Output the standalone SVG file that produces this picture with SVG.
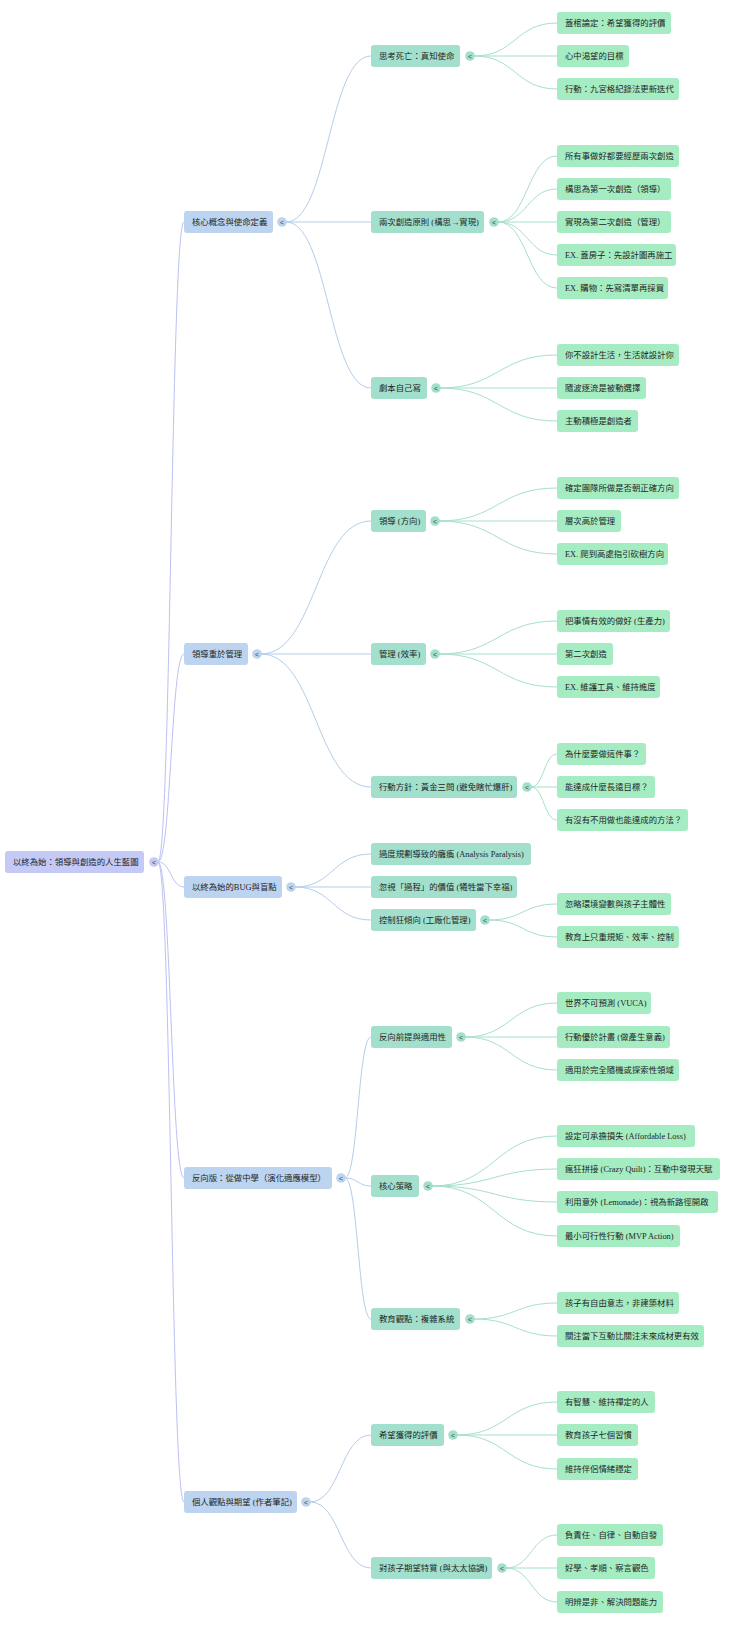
<svg xmlns="http://www.w3.org/2000/svg" width="740" height="1625" viewBox="0 0 740 1625">
<style>
text{font-family:"Liberation Serif","Noto Sans CJK TC",serif;font-size:8.4px;fill:#1f1f1f;dominant-baseline:central}
.r0{fill:#c4c9f6}.r1{fill:#bcd4ef}.r2{fill:#a2dfcd}.r3{fill:#a5ecc3}
.e0,.e1,.e2{fill:none;stroke-width:1}
.e0{stroke:#bcc1f3}.e1{stroke:#b2ceeb}.e2{stroke:#a6e0cc}
.c0{fill:#c4c9f6}.c1{fill:#bcd4ef}.c2{fill:#a2dfcd}
.ct{font-family:"Liberation Sans",sans-serif;font-size:7px;fill:#444;text-anchor:middle}
</style>
<rect width="740" height="1625" fill="#ffffff"/>
<g id="connectors">
<path class="e0" d="M158,862 C171,862 171,222 184,222"/>
<path class="e0" d="M158,862 C171,862 171,654 184,654"/>
<path class="e0" d="M158,862 C171,862 171,887 184,887"/>
<path class="e0" d="M158,862 C171,862 171,1178 184,1178"/>
<path class="e0" d="M158,862 C171,862 171,1502 184,1502"/>
<path class="e1" d="M286,222 C328.5,222 328.5,56 371,56"/>
<path class="e1" d="M286,222 L371,222"/>
<path class="e1" d="M286,222 C328.5,222 328.5,388 371,388"/>
<path class="e1" d="M261,654 C316,654 316,521 371,521"/>
<path class="e1" d="M261,654 L371,654"/>
<path class="e1" d="M261,654 C316,654 316,787 371,787"/>
<path class="e1" d="M295,887 C333,887 333,854 371,854"/>
<path class="e1" d="M295,887 L371,887"/>
<path class="e1" d="M295,887 C333,887 333,920 371,920"/>
<path class="e1" d="M345,1178 C358,1178 358,1037 371,1037"/>
<path class="e1" d="M345,1178 C358,1178 358,1186 371,1186"/>
<path class="e1" d="M345,1178 C358,1178 358,1319 371,1319"/>
<path class="e1" d="M310,1502 C340.5,1502 340.5,1435 371,1435"/>
<path class="e1" d="M310,1502 C340.5,1502 340.5,1568 371,1568"/>
<path class="e2" d="M474,56 C515.5,56 515.5,23 557,23"/>
<path class="e2" d="M474,56 L557,56"/>
<path class="e2" d="M474,56 C515.5,56 515.5,89 557,89"/>
<path class="e2" d="M498,222 C527.5,222 527.5,156 557,156"/>
<path class="e2" d="M498,222 C527.5,222 527.5,189 557,189"/>
<path class="e2" d="M498,222 L557,222"/>
<path class="e2" d="M498,222 C527.5,222 527.5,255 557,255"/>
<path class="e2" d="M498,222 C527.5,222 527.5,288 557,288"/>
<path class="e2" d="M440,388 C498.5,388 498.5,355 557,355"/>
<path class="e2" d="M440,388 L557,388"/>
<path class="e2" d="M440,388 C498.5,388 498.5,421 557,421"/>
<path class="e2" d="M439,521 C498,521 498,488 557,488"/>
<path class="e2" d="M439,521 L557,521"/>
<path class="e2" d="M439,521 C498,521 498,554 557,554"/>
<path class="e2" d="M439,654 C498,654 498,621 557,621"/>
<path class="e2" d="M439,654 L557,654"/>
<path class="e2" d="M439,654 C498,654 498,687 557,687"/>
<path class="e2" d="M531,787 C544,787 544,754 557,754"/>
<path class="e2" d="M531,787 L557,787"/>
<path class="e2" d="M531,787 C544,787 544,820 557,820"/>
<path class="e2" d="M489,920 C523,920 523,904 557,904"/>
<path class="e2" d="M489,920 C523,920 523,937 557,937"/>
<path class="e2" d="M465,1037 C511,1037 511,1003 557,1003"/>
<path class="e2" d="M465,1037 L557,1037"/>
<path class="e2" d="M465,1037 C511,1037 511,1070 557,1070"/>
<path class="e2" d="M432,1186 C494.5,1186 494.5,1136 557,1136"/>
<path class="e2" d="M432,1186 C494.5,1186 494.5,1169 557,1169"/>
<path class="e2" d="M432,1186 C494.5,1186 494.5,1202 557,1202"/>
<path class="e2" d="M432,1186 C494.5,1186 494.5,1236 557,1236"/>
<path class="e2" d="M474,1319 C515.5,1319 515.5,1303 557,1303"/>
<path class="e2" d="M474,1319 C515.5,1319 515.5,1336 557,1336"/>
<path class="e2" d="M457,1435 C507,1435 507,1402 557,1402"/>
<path class="e2" d="M457,1435 L557,1435"/>
<path class="e2" d="M457,1435 C507,1435 507,1469 557,1469"/>
<path class="e2" d="M506,1568 C531.5,1568 531.5,1535 557,1535"/>
<path class="e2" d="M506,1568 L557,1568"/>
<path class="e2" d="M506,1568 C531.5,1568 531.5,1602 557,1602"/>
</g>
<g id="root"><rect class="r0" x="5" y="851" width="139" height="22" rx="3"/><text x="13" y="862">以終為始：領導與創造的人生藍圖</text><circle class="c0" cx="154" cy="862" r="4.8"/><text class="ct" x="154" y="862">&lt;</text></g>
<g id="n1"><rect class="r1" x="184" y="211" width="89" height="22" rx="3"/><text x="192" y="222">核心概念與使命定義</text><circle class="c1" cx="282" cy="222" r="4.8"/><text class="ct" x="282" y="222">&lt;</text></g>
<g id="n2"><rect class="r1" x="184" y="643" width="64" height="22" rx="3"/><text x="192" y="654">領導重於管理</text><circle class="c1" cx="257" cy="654" r="4.8"/><text class="ct" x="257" y="654">&lt;</text></g>
<g id="n3"><rect class="r1" x="184" y="876" width="98" height="22" rx="3"/><text x="192" y="887">以終為始的BUG與盲點</text><circle class="c1" cx="291" cy="887" r="4.8"/><text class="ct" x="291" y="887">&lt;</text></g>
<g id="n4"><rect class="r1" x="184" y="1167" width="148" height="22" rx="3"/><text x="192" y="1178">反向版：從做中學（演化適應模型）</text><circle class="c1" cx="341" cy="1178" r="4.8"/><text class="ct" x="341" y="1178">&lt;</text></g>
<g id="n5"><rect class="r1" x="184" y="1491" width="113" height="22" rx="3"/><text x="192" y="1502">個人觀點與期望 (作者筆記)</text><circle class="c1" cx="306" cy="1502" r="4.8"/><text class="ct" x="306" y="1502">&lt;</text></g>
<g id="a1"><rect class="r2" x="371" y="45" width="89" height="22" rx="3"/><text x="379" y="56">思考死亡：真知使命</text><circle class="c2" cx="470" cy="56" r="4.8"/><text class="ct" x="470" y="56">&lt;</text></g>
<g id="a2"><rect class="r2" x="371" y="211" width="113" height="22" rx="3"/><text x="379" y="222">兩次創造原則 (構思→實現)</text><circle class="c2" cx="494" cy="222" r="4.8"/><text class="ct" x="494" y="222">&lt;</text></g>
<g id="a3"><rect class="r2" x="371" y="377" width="56" height="22" rx="3"/><text x="379" y="388">劇本自己寫</text><circle class="c2" cx="436" cy="388" r="4.8"/><text class="ct" x="436" y="388">&lt;</text></g>
<g id="b1"><rect class="r2" x="371" y="510" width="55" height="22" rx="3"/><text x="379" y="521">領導 (方向)</text><circle class="c2" cx="435" cy="521" r="4.8"/><text class="ct" x="435" y="521">&lt;</text></g>
<g id="b2"><rect class="r2" x="371" y="643" width="55" height="22" rx="3"/><text x="379" y="654">管理 (效率)</text><circle class="c2" cx="435" cy="654" r="4.8"/><text class="ct" x="435" y="654">&lt;</text></g>
<g id="b3"><rect class="r2" x="371" y="776" width="146" height="22" rx="3"/><text x="379" y="787">行動方針：黃金三問 (避免瞎忙爆肝)</text><circle class="c2" cx="527" cy="787" r="4.8"/><text class="ct" x="527" y="787">&lt;</text></g>
<g id="c1"><rect class="r2" x="371" y="843" width="160" height="22" rx="3"/><text x="379" y="854">過度規劃導致的癱瘓 (Analysis Paralysis)</text></g>
<g id="c2"><rect class="r2" x="371" y="876" width="146" height="22" rx="3"/><text x="379" y="887">忽視「過程」的價值 (犧牲當下幸福)</text></g>
<g id="c3"><rect class="r2" x="371" y="909" width="105" height="22" rx="3"/><text x="379" y="920">控制狂傾向 (工廠化管理)</text><circle class="c2" cx="485" cy="920" r="4.8"/><text class="ct" x="485" y="920">&lt;</text></g>
<g id="d1"><rect class="r2" x="371" y="1026" width="81" height="22" rx="3"/><text x="379" y="1037">反向前提與適用性</text><circle class="c2" cx="461" cy="1037" r="4.8"/><text class="ct" x="461" y="1037">&lt;</text></g>
<g id="d2"><rect class="r2" x="371" y="1175" width="48" height="22" rx="3"/><text x="379" y="1186">核心策略</text><circle class="c2" cx="428" cy="1186" r="4.8"/><text class="ct" x="428" y="1186">&lt;</text></g>
<g id="d3"><rect class="r2" x="371" y="1308" width="89" height="22" rx="3"/><text x="379" y="1319">教育觀點：複雜系統</text><circle class="c2" cx="470" cy="1319" r="4.8"/><text class="ct" x="470" y="1319">&lt;</text></g>
<g id="e1"><rect class="r2" x="371" y="1424" width="73" height="22" rx="3"/><text x="379" y="1435">希望獲得的評價</text><circle class="c2" cx="453" cy="1435" r="4.8"/><text class="ct" x="453" y="1435">&lt;</text></g>
<g id="e2"><rect class="r2" x="371" y="1557" width="121" height="22" rx="3"/><text x="379" y="1568">對孩子期望特質 (與太太協調)</text><circle class="c2" cx="502" cy="1568" r="4.8"/><text class="ct" x="502" y="1568">&lt;</text></g>
<g id="a1-1"><rect class="r3" x="557" y="12" width="114" height="22" rx="3"/><text x="565" y="23">蓋棺論定：希望獲得的評價</text></g>
<g id="a1-2"><rect class="r3" x="557" y="45" width="72" height="22" rx="3"/><text x="565" y="56">心中渴望的目標</text></g>
<g id="a1-3"><rect class="r3" x="557" y="78" width="122" height="22" rx="3"/><text x="565" y="89">行動：九宮格紀錄法更新迭代</text></g>
<g id="a2-1"><rect class="r3" x="557" y="145" width="122" height="22" rx="3"/><text x="565" y="156">所有事做好都要經歷兩次創造</text></g>
<g id="a2-2"><rect class="r3" x="557" y="178" width="114" height="22" rx="3"/><text x="565" y="189">構思為第一次創造（領導）</text></g>
<g id="a2-3"><rect class="r3" x="557" y="211" width="114" height="22" rx="3"/><text x="565" y="222">實現為第二次創造（管理）</text></g>
<g id="a2-4"><rect class="r3" x="557" y="244" width="119" height="22" rx="3"/><text x="565" y="255">EX. 蓋房子：先設計圖再施工</text></g>
<g id="a2-5"><rect class="r3" x="557" y="277" width="111" height="22" rx="3"/><text x="565" y="288">EX. 購物：先寫清單再採買</text></g>
<g id="a3-1"><rect class="r3" x="557" y="344" width="122" height="22" rx="3"/><text x="565" y="355">你不設計生活，生活就設計你</text></g>
<g id="a3-2"><rect class="r3" x="557" y="377" width="89" height="22" rx="3"/><text x="565" y="388">隨波逐流是被動選擇</text></g>
<g id="a3-3"><rect class="r3" x="557" y="410" width="81" height="22" rx="3"/><text x="565" y="421">主動積極是創造者</text></g>
<g id="b1-1"><rect class="r3" x="557" y="477" width="122" height="22" rx="3"/><text x="565" y="488">確定團隊所做是否朝正確方向</text></g>
<g id="b1-2"><rect class="r3" x="557" y="510" width="64" height="22" rx="3"/><text x="565" y="521">層次高於管理</text></g>
<g id="b1-3"><rect class="r3" x="557" y="543" width="111" height="22" rx="3"/><text x="565" y="554">EX. 爬到高處指引砍樹方向</text></g>
<g id="b2-1"><rect class="r3" x="557" y="610" width="113" height="22" rx="3"/><text x="565" y="621">把事情有效的做好 (生產力)</text></g>
<g id="b2-2"><rect class="r3" x="557" y="643" width="56" height="22" rx="3"/><text x="565" y="654">第二次創造</text></g>
<g id="b2-3"><rect class="r3" x="557" y="676" width="103" height="22" rx="3"/><text x="565" y="687">EX. 維護工具、維持進度</text></g>
<g id="b3-1"><rect class="r3" x="557" y="743" width="89" height="22" rx="3"/><text x="565" y="754">為什麼要做這件事？</text></g>
<g id="b3-2"><rect class="r3" x="557" y="776" width="98" height="22" rx="3"/><text x="565" y="787">能達成什麼長遠目標？</text></g>
<g id="b3-3"><rect class="r3" x="557" y="809" width="131" height="22" rx="3"/><text x="565" y="820">有沒有不用做也能達成的方法？</text></g>
<g id="c3-1"><rect class="r3" x="557" y="893" width="114" height="22" rx="3"/><text x="565" y="904">忽略環境變數與孩子主體性</text></g>
<g id="c3-2"><rect class="r3" x="557" y="926" width="122" height="22" rx="3"/><text x="565" y="937">教育上只重規矩、效率、控制</text></g>
<g id="d1-1"><rect class="r3" x="557" y="992" width="94" height="22" rx="3"/><text x="565" y="1003">世界不可預測 (VUCA)</text></g>
<g id="d1-2"><rect class="r3" x="557" y="1026" width="113" height="22" rx="3"/><text x="565" y="1037">行動優於計畫 (做產生意義)</text></g>
<g id="d1-3"><rect class="r3" x="557" y="1059" width="122" height="22" rx="3"/><text x="565" y="1070">適用於完全隨機或探索性領域</text></g>
<g id="d2-1"><rect class="r3" x="557" y="1125" width="138" height="22" rx="3"/><text x="565" y="1136">設定可承擔損失 (Affordable Loss)</text></g>
<g id="d2-2"><rect class="r3" x="557" y="1158" width="163" height="22" rx="3"/><text x="565" y="1169">瘋狂拼接 (Crazy Quilt)：互動中發現天賦</text></g>
<g id="d2-3"><rect class="r3" x="557" y="1191" width="161" height="22" rx="3"/><text x="565" y="1202">利用意外 (Lemonade)：視為新路徑開啟</text></g>
<g id="d2-4"><rect class="r3" x="557" y="1225" width="123" height="22" rx="3"/><text x="565" y="1236">最小可行性行動 (MVP Action)</text></g>
<g id="d3-1"><rect class="r3" x="557" y="1292" width="122" height="22" rx="3"/><text x="565" y="1303">孩子有自由意志，非建築材料</text></g>
<g id="d3-2"><rect class="r3" x="557" y="1325" width="147" height="22" rx="3"/><text x="565" y="1336">關注當下互動比關注未來成材更有效</text></g>
<g id="e1-1"><rect class="r3" x="557" y="1391" width="98" height="22" rx="3"/><text x="565" y="1402">有智慧、維持禪定的人</text></g>
<g id="e1-2"><rect class="r3" x="557" y="1424" width="81" height="22" rx="3"/><text x="565" y="1435">教育孩子七個習慣</text></g>
<g id="e1-3"><rect class="r3" x="557" y="1458" width="81" height="22" rx="3"/><text x="565" y="1469">維持伴侶情緒穩定</text></g>
<g id="e2-1"><rect class="r3" x="557" y="1524" width="106" height="22" rx="3"/><text x="565" y="1535">負責任、自律、自動自發</text></g>
<g id="e2-2"><rect class="r3" x="557" y="1557" width="98" height="22" rx="3"/><text x="565" y="1568">好學、孝順、察言觀色</text></g>
<g id="e2-3"><rect class="r3" x="557" y="1591" width="106" height="22" rx="3"/><text x="565" y="1602">明辨是非、解決問題能力</text></g>
</svg>
